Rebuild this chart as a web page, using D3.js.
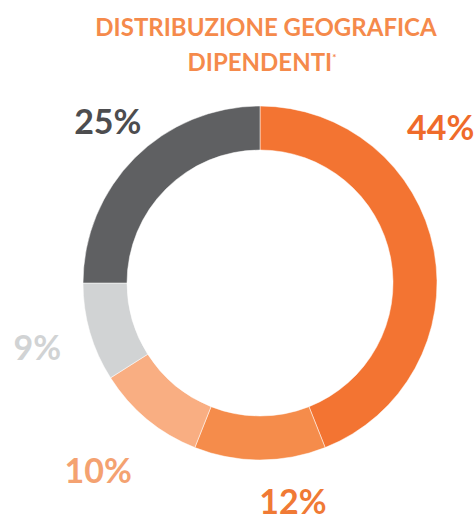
<!DOCTYPE html>
<html>
<head>
<meta charset="utf-8">
<script src="https://cdn.jsdelivr.net/npm/d3@7"></script>
<style>
  body { margin: 0; background: #fff; }
  text { font-family: Lato, "Noto Sans", sans-serif; font-weight: 700; }
</style>
</head>
<body>
<div id="chart"></div>
<script>
// data
const categories = ["A", "B", "C", "D", "E"];
const values = [44, 12, 10, 9, 25];
const labels = ["44%", "12%", "10%", "9%", "25%"];
const sliceColors = ["#F37432", "#F58C4B", "#F9AE82", "#D1D3D4", "#5F6062"];
const labelColors = ["#EF6B2A", "#F07A35", "#F4A271", "#D1D3D4", "#4D4D4F"];
const titleLines = ["DISTRIBUZIONE GEOGRAFICA", "DIPENDENTI"];

const width = 474, height = 520;
const cx = 260, cy = 283;
const outerR = 177, innerR = 133, labelR = 230;

const svg = d3.select("#chart")
  .append("svg")
  .attr("width", width)
  .attr("height", height);

// title
const title = svg.append("g").attr("fill", "#F58A4B").attr("text-anchor", "middle");
title.append("text")
  .attr("x", 266).attr("y", 36)
  .style("font-size", "24px")
  .text(titleLines[0]);
const t2 = title.append("text")
  .attr("x", 262).attr("y", 71)
  .style("font-size", "24px")
  .text(titleLines[1]);
t2.append("tspan")
  .attr("dy", -10)
  .style("font-size", "10px")
  .text("*");

const pie = d3.pie().sort(null).value(d => d)(values);
const arc = d3.arc().innerRadius(innerR).outerRadius(outerR);

const g = svg.append("g").attr("transform", `translate(${cx},${cy})`);

g.selectAll("path")
  .data(pie)
  .join("path")
  .attr("d", arc)
  .attr("fill", (d, i) => sliceColors[i])
  .attr("stroke", "#fff")
  .attr("stroke-width", 0.5);

// labels sit outside the ring; the big slice's label is pulled up toward the top
const labelArc = d3.arc().innerRadius(labelR).outerRadius(labelR);
const angleNudge = {0: -0.52, 1: -0.15, 2: 0.02, 3: 0, 4: 0.03};
const radiusNudge = {0: 8, 1: -9, 2: 18, 3: 2, 4: -8};

g.selectAll("text.lbl")
  .data(pie)
  .join("text")
  .attr("class", "lbl")
  .attr("transform", (d, i) => {
    const a = (d.startAngle + d.endAngle) / 2 + angleNudge[i];
    const r = labelR + radiusNudge[i];
    return `translate(${r * Math.sin(a)},${-r * Math.cos(a)})`;
  })
  .attr("text-anchor", "middle")
  .attr("dy", "0.36em")
  .attr("fill", (d, i) => labelColors[i])
  .style("font-size", "34px")
  .text((d, i) => labels[i]);
</script>
</body>
</html>
